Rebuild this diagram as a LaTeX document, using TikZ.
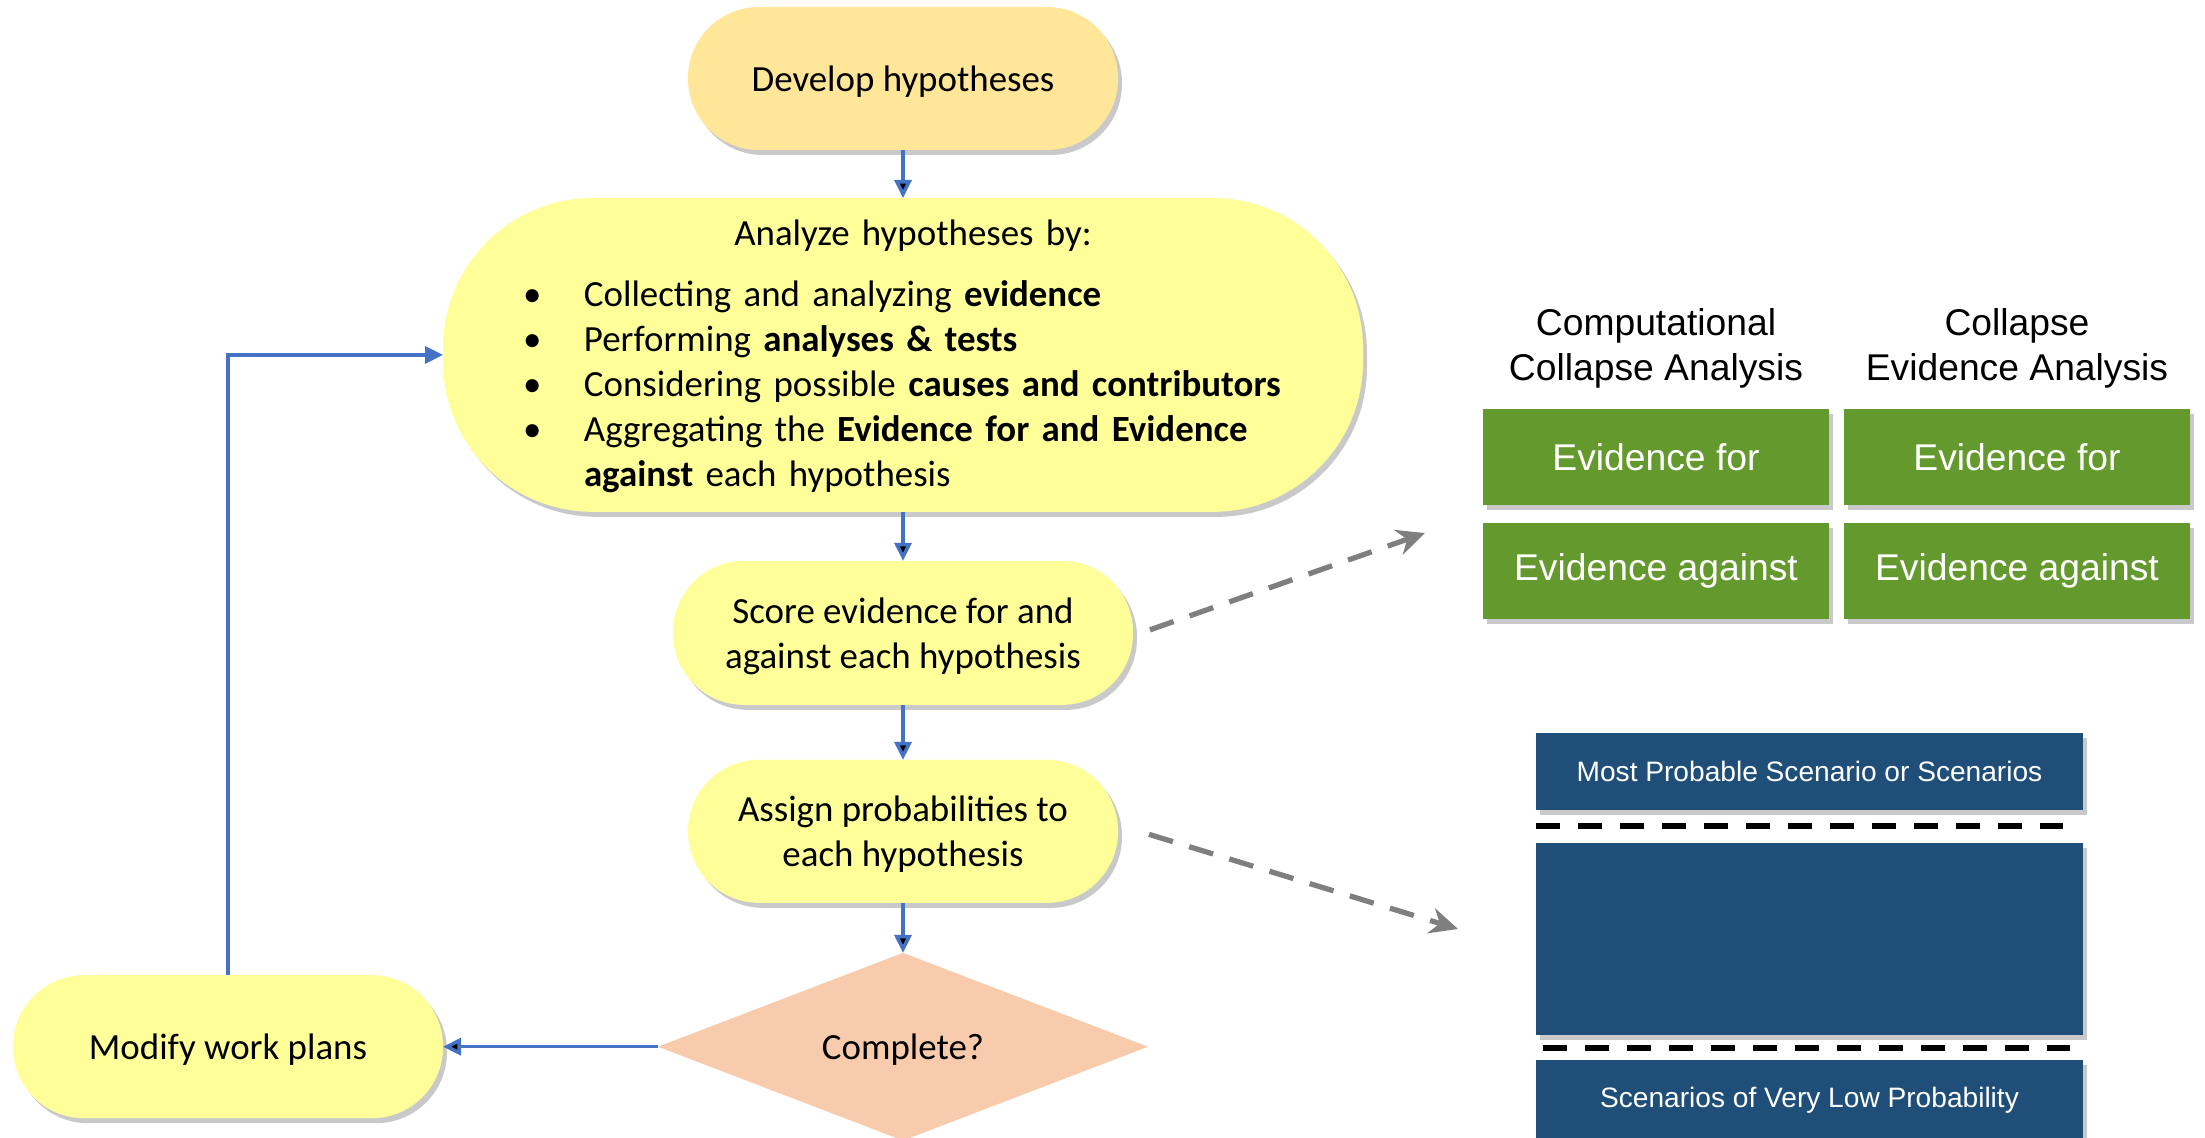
\documentclass[tikz,border=0pt]{standalone}
\usepackage{fontspec}
\setmainfont{Carlito}
\newfontfamily\arialfont{Liberation Sans}
\usepackage{tikz}
\usetikzlibrary{positioning, shapes.geometric, arrows.meta, shadows, calc}
\definecolor{devorange}{RGB}{255,230,153}
\definecolor{hypyellow}{RGB}{255,255,153}
\definecolor{donepeach}{RGB}{248,203,173}
\definecolor{evgreen}{RGB}{100,153,46}
\definecolor{probnavy}{RGB}{31,78,121}
\definecolor{flowblue}{RGB}{68,114,196}
\definecolor{hintgray}{RGB}{127,127,127}

\begin{document}
\begin{tikzpicture}[node distance=0.5cm,
		every node/.style={font=\fontsize{10.5}{12.8}\selectfont, outer sep=0pt},
		soft/.style={drop shadow={shadow xshift=0.04cm, shadow yshift=-0.05cm, opacity=0.3, fill=black!70}},
		pill/.style={soft, fill=hypyellow, minimum width=4.3cm, minimum height=1.43cm, rounded corners=0.71cm, align=center, text depth=0pt},
		flow/.style={-{Triangle[length=0.18cm, width=0.17cm]}, draw=flowblue, line width=1pt},
		hint/.style={-{Stealth[length=0.28cm, width=0.26cm]}, draw=hintgray, line width=1.5pt, dash pattern=on 0.25cm off 0.17cm},
		evbox/.style={soft, fill=evgreen, minimum width=3.46cm, minimum height=0.96cm, text=white, font=\arialfont\fontsize{10.6}{12.8}\selectfont},
		probbox/.style={soft, fill=probnavy, minimum width=5.47cm, text=white, font=\arialfont\fontsize{8}{10}\selectfont},
		colhead/.style={align=center, font=\arialfont\fontsize{10.6}{12.8}\selectfont},
		sepline/.style={line width=0.06cm, dash pattern=on 0.24cm off 0.18cm}]
	\useasboundingbox (0,0) rectangle (22.05,-11.38);

	% flow chart
	\node[pill, fill=devorange] (develop) at (9.03,-0.785) {Develop hypotheses};
	\node[pill, below=0.48cm of develop, minimum width=9.2cm, minimum height=3.13cm, rounded corners=1.5cm, text width=7.44cm, text depth=, align=left] (analyze) {%
		\centering\hspace*{0.2cm}\rule{0pt}{0.36cm}Analyze hypotheses by:\par\vspace{0.16cm}\raggedright
		\begin{tabular}[t]{@{}p{0.53cm}@{}l@{}}
			\hspace*{-0.08cm}\textbullet & Collecting and analyzing \textbf{evidence}\\
			\hspace*{-0.08cm}\textbullet & Performing \textbf{analyses \& tests}\\
			\hspace*{-0.08cm}\textbullet & Considering possible \textbf{causes and contributors}\\
			\hspace*{-0.08cm}\textbullet & Aggregating the \textbf{Evidence for and Evidence}\\
			 & \textbf{against} each hypothesis
		\end{tabular}};
	\node[pill, below=0.49cm of analyze, minimum width=4.6cm, minimum height=1.44cm] (score) {Score evidence for and\\against each hypothesis};
	\node[pill, below=0.55cm of score] (assign) {Assign probabilities to\\each hypothesis};
	\node[diamond, fill=donepeach, minimum width=4.9cm, minimum height=1.8cm, inner sep=0pt, text depth=0pt, below=0.5cm of assign] (done) {Complete?};
	\node[pill, left=2.15cm of done] (modify) {Modify work plans};

	\draw[flow]
		(develop) edge (analyze)
		(analyze) edge (score)
		(score) edge (assign)
		(assign) edge (done)
		(done) edge (modify);
	\draw[flow] (modify) |- (analyze);

	% evidence tables
	\node[evbox] (compfor) at (16.56,-4.57) {Evidence for};
	\node[evbox, right=0.15cm of compfor] (collfor) {Evidence for};
	\node[evbox, below=0.18cm of compfor] (compagainst) {Evidence against};
	\node[evbox, below=0.18cm of collfor] (collagainst) {Evidence against};
	\node[colhead, above=0.09cm of compfor] (comphead) {Computational\\Collapse Analysis};
	\node[colhead, above=0.09cm of collfor] (collhead) {Collapse\\Evidence Analysis};

	% probability ranking
	\node[probbox, minimum height=0.77cm] (probtop) at (18.095,-7.715) {Most Probable Scenario or Scenarios};
	\node[probbox, minimum height=1.92cm, below=0.33cm of probtop] (probmid) {};
	\node[probbox, minimum height=0.8cm, below=0.25cm of probmid] (problow) {Scenarios of Very Low Probability};
	\draw[sepline] ($(probtop.south west)!0.5!(probmid.north west)$) -- ($(probtop.south east)!0.5!(probmid.north east)+(-0.2,0)$);
	\draw[sepline] ($(probmid.south west)!0.5!(problow.north west)+(0.07,0)$) -- ($(probmid.south east)!0.5!(problow.north east)+(-0.13,0)$);

	\coordinate (evidtip) at (14.25,-5.33);
	\coordinate (probtip) at (14.58,-9.29);
	\draw[hint] ([xshift=0.17cm, yshift=0.03cm]score.east) -- (evidtip);
	\draw[hint] ([xshift=0.31cm, yshift=-0.03cm]assign.east) -- (probtip);
\end{tikzpicture}
\end{document}
